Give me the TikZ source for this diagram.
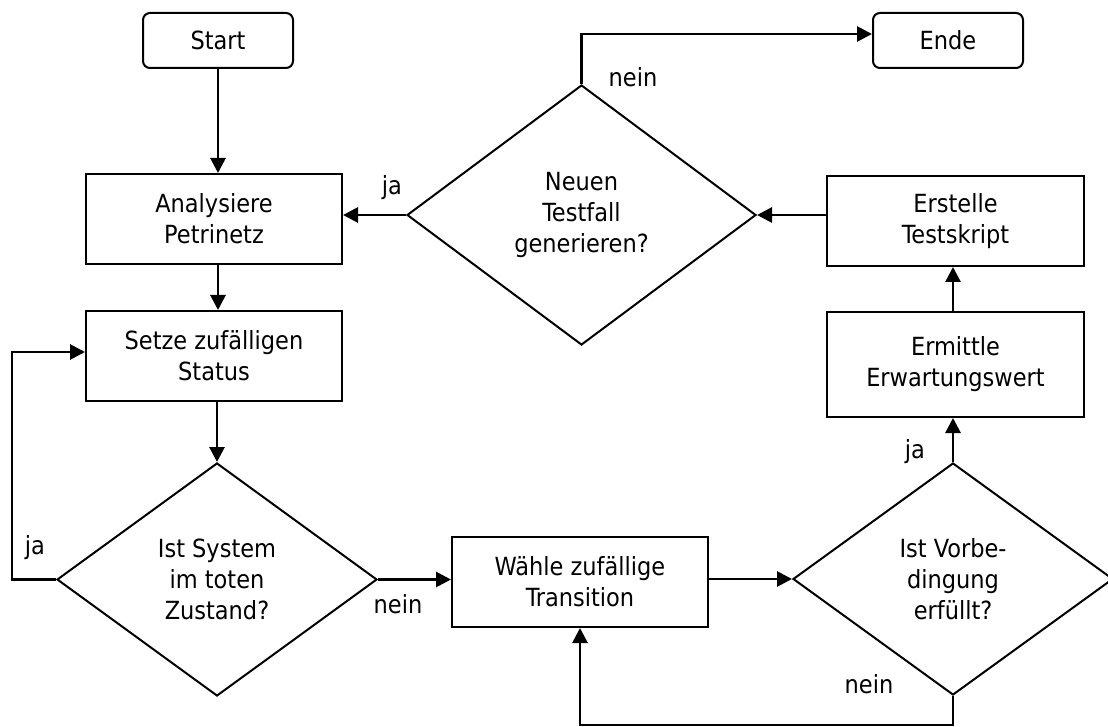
\documentclass[tikz,border=0pt]{standalone}
\usepackage{fontspec}
\setmainfont{DejaVu Sans Condensed}
\usetikzlibrary{shapes.geometric,arrows.meta}

\tikzset{
  every node/.style={font=\fontsize{25}{31}\selectfont},
  procbox/.style={draw, line width=2pt, rectangle, align=center, inner sep=0pt},
  termbox/.style={draw, line width=2pt, rectangle, rounded corners=7pt,
                  minimum width=150pt, minimum height=55pt, inner sep=0pt},
  decision/.style={draw, line width=2pt, diamond, align=center, inner sep=0pt},
  flow/.style={line width=2.8pt, -{Triangle[length=15pt,width=15pt]}},
  tag/.style={inner sep=0pt},
}

\begin{document}
\begin{tikzpicture}[x=1pt, y=-1pt]
  \useasboundingbox (0,0) rectangle (1108,727);

  % terminals
  \node[termbox] (start) at (218,40.5) {Start};
  \node[termbox] (ende)  at (948,40.5) {Ende};

  % left column
  \node[procbox, minimum width=256pt, minimum height=90pt] (analyse) at (214,219)
       {Analysiere\\Petrinetz};
  \node[procbox, minimum width=256pt, minimum height=90pt] (setze) at (214,356)
       {Setze zufälligen\\Status};
  \node[decision, minimum width=320pt, minimum height=233pt] (tot) at (217,579.5)
       {Ist System\\im toten\\Zustand?};

  % middle
  \node[procbox, minimum width=256pt, minimum height=90pt] (waehle) at (580,582)
       {Wähle zufällige\\Transition};
  \node[decision, minimum width=349pt, minimum height=260pt] (neu) at (581.5,215)
       {Neuen\\Testfall\\generieren?};

  % right column
  \node[decision, minimum width=320pt, minimum height=232pt] (vorb) at (953,579)
       {Ist Vorbe-\\dingung\\erfüllt?};
  \node[procbox, minimum width=257pt, minimum height=105pt] (ermittle) at (955.5,364.5)
       {Ermittle\\Erwartungswert};
  \node[procbox, minimum width=257pt, minimum height=90pt] (erstelle) at (955.5,221)
       {Erstelle\\Testskript};

  % loop corners
  \coordinate (jaL)   at (12,0);
  \coordinate (exitT) at (0,34);
  \coordinate (loopB) at (0,725);

  % connectors
  \draw[flow] (start) -- (start |- analyse.north);
  \draw[flow] (analyse.south -| start) -- (setze.north -| start);
  \draw[flow] (setze.south -| tot) -- (tot.north);
  \draw[flow] (tot.west) -| (jaL |- tot.west) |- (setze.west |- 0,352) ;
  \draw[flow] (tot.east) -- (tot.east -| waehle.west);
  \draw[flow] (waehle.east |- vorb.west) -- (vorb.west);
  \draw[flow] (vorb.south) -- (vorb.south |- loopB) -| (waehle.south);
  \draw[flow] (vorb.north) -- (vorb.north |- ermittle.south);
  \draw[flow] (vorb.north |- ermittle.north) -- (vorb.north |- erstelle.south);
  \draw[flow] (erstelle.west |- neu.east) -- (neu.east);
  \draw[flow] (neu.west) -- (neu.west -| analyse.east);
  \draw[flow] (neu.north) -- (neu.north |- exitT) -- (ende.west |- exitT);

  % branch labels
  \node[tag] (l1) at (392,188) {ja};
  \node[tag] (l2) at (633,77) {nein};
  \node[tag] (l3) at (35,548) {ja};
  \node[tag] (l4) at (398,604) {nein};
  \node[tag] (l5) at (915,452) {ja};
  \node[tag] (l6) at (869,684) {nein};
\end{tikzpicture}
\end{document}
